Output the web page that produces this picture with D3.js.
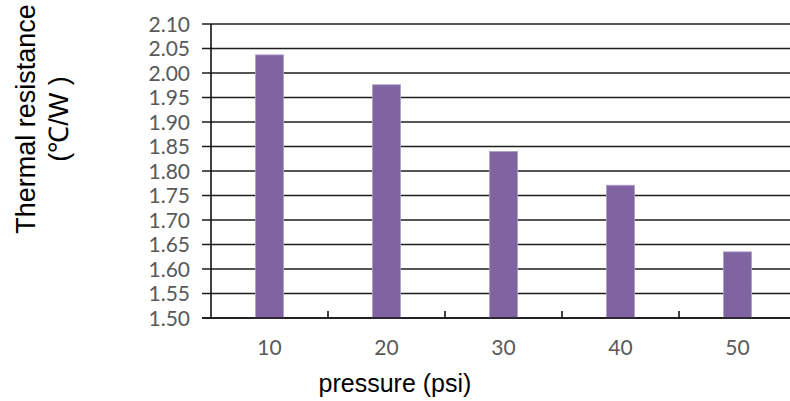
<!DOCTYPE html>
<html lang="en">
<head>
<meta charset="UTF-8">
<title>Thermal resistance vs pressure</title>
<script src="https://d3js.org/d3.v7.min.js"></script>
<style>
  html, body { margin: 0; padding: 0; background: #fff; overflow: hidden; }
  svg { display: block; }
  .tick-label { font-family: Lato, "Open Sans", sans-serif; fill: #595959; }
  .title { font-family: "Liberation Sans", Arial, sans-serif; fill: #000; }
</style>
</head>
<body>
<svg id="canvas" width="790" height="401"></svg>
<script>
// data
let pressures = ['10', '20', '30', '40', '50']
let resistance = [2.037, 1.976, 1.840, 1.771, 1.635]
let yTicks = [1.50, 1.55, 1.60, 1.65, 1.70, 1.75, 1.80, 1.85, 1.90, 1.95, 2.00, 2.05, 2.10]

let svg = d3.select('#canvas')

let plotLeft = 211, plotTop = 24, plotBottom = 318
let step = 117

let x = d3.scaleBand()
    .domain(pressures)
    .range([plotLeft, plotLeft + step * pressures.length])
    .paddingInner(0.76)
    .paddingOuter(0.38)

let y = d3.scaleLinear()
    .domain([1.5, 2.1])
    .range([plotBottom, plotTop])

// gridlines + y ticks
svg.append('g')
    .selectAll('line')
    .data(yTicks)
    .enter()
    .append('line')
    .attr('x1', plotLeft - 9)
    .attr('x2', 800)
    .attr('y1', d => y(d))
    .attr('y2', d => y(d))
    .attr('stroke', '#1e1e1e')
    .attr('stroke-width', 1.3)

svg.append('g')
    .selectAll('text')
    .data(yTicks)
    .enter()
    .append('text')
    .attr('class', 'tick-label')
    .attr('x', 190)
    .attr('y', d => y(d))
    .attr('dy', '0.36em')
    .attr('text-anchor', 'end')
    .style('font-size', '21px')
    .text(d => d3.format('.2f')(d))

// bars
svg.append('g')
    .selectAll('rect')
    .data(resistance)
    .enter()
    .append('rect')
    .attr('x', (d, i) => x(pressures[i]))
    .attr('width', x.bandwidth())
    .attr('y', d => y(d))
    .attr('height', d => y(1.5) - y(d))
    .attr('fill', '#8064a2')
    .attr('stroke', '#b1a0c6')
    .attr('stroke-width', 0.8)

// y axis line
svg.append('line')
    .attr('x1', plotLeft).attr('x2', plotLeft)
    .attr('y1', plotTop).attr('y2', plotBottom)
    .attr('stroke', '#111')
    .attr('stroke-width', 1.6)

// x axis line + inward ticks at category boundaries
svg.append('line')
    .attr('x1', plotLeft - 9).attr('x2', 800)
    .attr('y1', plotBottom).attr('y2', plotBottom)
    .attr('stroke', '#111')
    .attr('stroke-width', 1.6)

svg.append('g')
    .selectAll('line')
    .data(pressures.slice(1))
    .enter()
    .append('line')
    .attr('x1', d => x(d) - x.step() * x.paddingOuter())
    .attr('x2', d => x(d) - x.step() * x.paddingOuter())
    .attr('y1', plotBottom)
    .attr('y2', plotBottom - 7)
    .attr('stroke', '#111')
    .attr('stroke-width', 1.6)

svg.append('g')
    .selectAll('text')
    .data(pressures)
    .enter()
    .append('text')
    .attr('class', 'tick-label')
    .attr('x', d => x(d) + x.bandwidth() / 2)
    .attr('y', 355)
    .attr('text-anchor', 'middle')
    .style('font-size', '21px')
    .text(d => d)

// axis titles
svg.append('text')
    .attr('class', 'title')
    .attr('x', 395)
    .attr('y', 392)
    .attr('text-anchor', 'middle')
    .style('font-size', '25px')
    .text('pressure (psi)')

let yTitle = svg.append('text')
    .attr('class', 'title')
    .attr('transform', 'translate(35,119) rotate(-90)')
    .attr('text-anchor', 'middle')
    .style('font-size', '27px')

yTitle.append('tspan').attr('x', 0).attr('dy', 0).text('Thermal resistance')
yTitle.append('tspan').attr('x', 0).attr('dy', 33).text('(℃/W )')
</script>
</body>
</html>
